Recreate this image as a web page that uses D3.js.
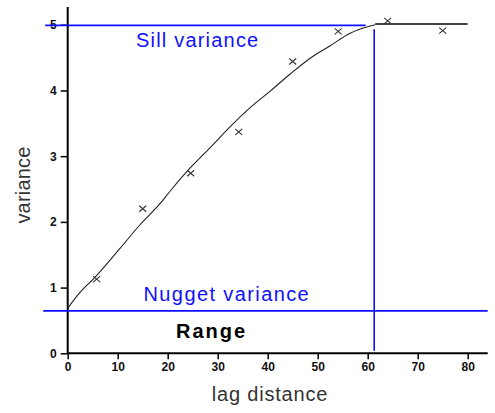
<!DOCTYPE html>
<html>
<head>
<meta charset="utf-8">
<script src="https://cdn.jsdelivr.net/npm/d3@7"></script>
<style>
  html, body { margin: 0; padding: 0; background: #fff; }
  svg { display: block; }
</style>
</head>
<body>
<svg id="chart" width="495" height="413"></svg>
<script>
// ---- data ----
const xTicks = [0, 10, 20, 30, 40, 50, 60, 70, 80];
const yTicks = [0, 1, 2, 3, 4, 5];
// empirical semivariogram points
const lagX = [5.8, 15.0, 24.6, 34.2, 45.0, 54.1, 64.0, 75.0];
const lagY = [1.13, 2.20, 2.74, 3.37, 4.44, 4.90, 5.06, 4.91];
// fitted model curve
const modelX = [0, 2.5, 5.5, 10.5, 14.5, 18.5, 20.5, 24.5, 28.5, 32.5, 36.5, 40.5, 44.5, 48.5, 52.5, 56.5, 60.5, 61.5];
const modelY = [0.685, 0.93, 1.16, 1.6, 1.96, 2.28, 2.47, 2.82, 3.13, 3.45, 3.74, 3.99, 4.25, 4.49, 4.68, 4.87, 4.98, 5.0];
const flatX = [61.5, 80];
const sill = 4.99;
const nugget = 0.645;
const range = 61.3;
const labels = { sill: "Sill variance", nugget: "Nugget variance", range: "Range", x: "lag distance", y: "variance" };

// ---- scales ----
const svg = d3.select("#chart");
const x = d3.scaleLinear().domain([0, 84]).range([67.7, 487.7]);
const y = d3.scaleLinear().domain([0, 5.27]).range([353.3, 7]);
const blue = "#1010ff";

// ---- axes ----
const yAxis = svg.append("g").attr("transform", `translate(${x(0)},0)`)
  .call(d3.axisLeft(y).tickValues(yTicks).tickSize(7).tickPadding(4).tickFormat(d3.format("d")));
const xAxis = svg.append("g").attr("transform", `translate(0,${y(0)})`)
  .call(d3.axisBottom(x).tickValues(xTicks).tickSize(6).tickPadding(3).tickFormat(d3.format("d")));
[xAxis, yAxis].forEach(g => {
  g.select(".domain").attr("stroke", "#000").attr("stroke-width", 2);
  g.selectAll(".tick line").attr("stroke", "#000").attr("stroke-width", 1.5);
  g.selectAll(".tick text")
    .attr("fill", "#111")
    .style("font-family", "'Liberation Sans Narrow', 'Arial Narrow', 'Liberation Sans', sans-serif")
    .style("font-weight", "bold")
    .style("font-size", "12px");
});
yAxis.select(".domain").attr("d", `M0,${y(0)}V${y(5.27)}`);
xAxis.select(".domain").attr("d", `M${x(0)},0H${x(84)}`);

// ---- reference lines ----
svg.append("line")
  .attr("x1", x(-4.5)).attr("x2", x(59.6))
  .attr("y1", y(sill)).attr("y2", y(sill))
  .attr("stroke", blue).attr("stroke-width", 1.6);
svg.append("line")
  .attr("x1", x(-4.9)).attr("x2", x(84))
  .attr("y1", y(nugget)).attr("y2", y(nugget))
  .attr("stroke", blue).attr("stroke-width", 1.6);
svg.append("line")
  .attr("x1", x(range)).attr("x2", x(range))
  .attr("y1", y(4.93)).attr("y2", y(0.04))
  .attr("stroke", blue).attr("stroke-width", 1.6);

// ---- model curve ----
const line = d3.line().x(d => x(d[0])).y(d => y(d[1])).curve(d3.curveMonotoneX);
svg.append("path")
  .datum(modelX.map((v, i) => [v, modelY[i]]))
  .attr("d", line)
  .attr("fill", "none").attr("stroke", "#222").attr("stroke-width", 1.1);
svg.append("path")
  .datum(flatX.map(v => [v, 5.01]))
  .attr("d", d3.line().x(d => x(d[0])).y(d => y(d[1])))
  .attr("fill", "none").attr("stroke", "#444").attr("stroke-width", 2);

// ---- data crosses ----
const pts = svg.append("g");
lagX.forEach((v, i) => {
  const cx = x(v), cy = y(lagY[i]);
  pts.append("path")
    .attr("d", `M${cx - 3.5},${cy - 3}L${cx + 3.5},${cy + 3}M${cx - 3.5},${cy + 3}L${cx + 3.5},${cy - 3}`)
    .attr("stroke", "#333").attr("stroke-width", 1.1).attr("fill", "none");
});

// ---- labels ----
const font = "'Liberation Sans', Arial, sans-serif";
svg.append("text").attr("x", 136).attr("y", 46.7).text(labels.sill)
  .attr("fill", blue).style("font-family", font).style("font-size", "20px").style("letter-spacing", "1.2px");
svg.append("text").attr("x", 143.5).attr("y", 301).text(labels.nugget)
  .attr("fill", blue).style("font-family", font).style("font-size", "20px").style("letter-spacing", "1.4px");
svg.append("text").attr("x", 176).attr("y", 338.3).text(labels.range)
  .attr("fill", "#000").style("font-family", font).style("font-size", "20px").style("font-weight", "bold").style("letter-spacing", "2px");
svg.append("text").attr("x", 270).attr("y", 401).attr("text-anchor", "middle").text(labels.x)
  .attr("fill", "#333").style("font-family", font).style("font-size", "20px").style("letter-spacing", "0.8px");
svg.append("text").attr("transform", "translate(30,185) rotate(-90)").attr("text-anchor", "middle").text(labels.y)
  .attr("fill", "#333").style("font-family", font).style("font-size", "20px").style("letter-spacing", "0.2px");
</script>
</body>
</html>
